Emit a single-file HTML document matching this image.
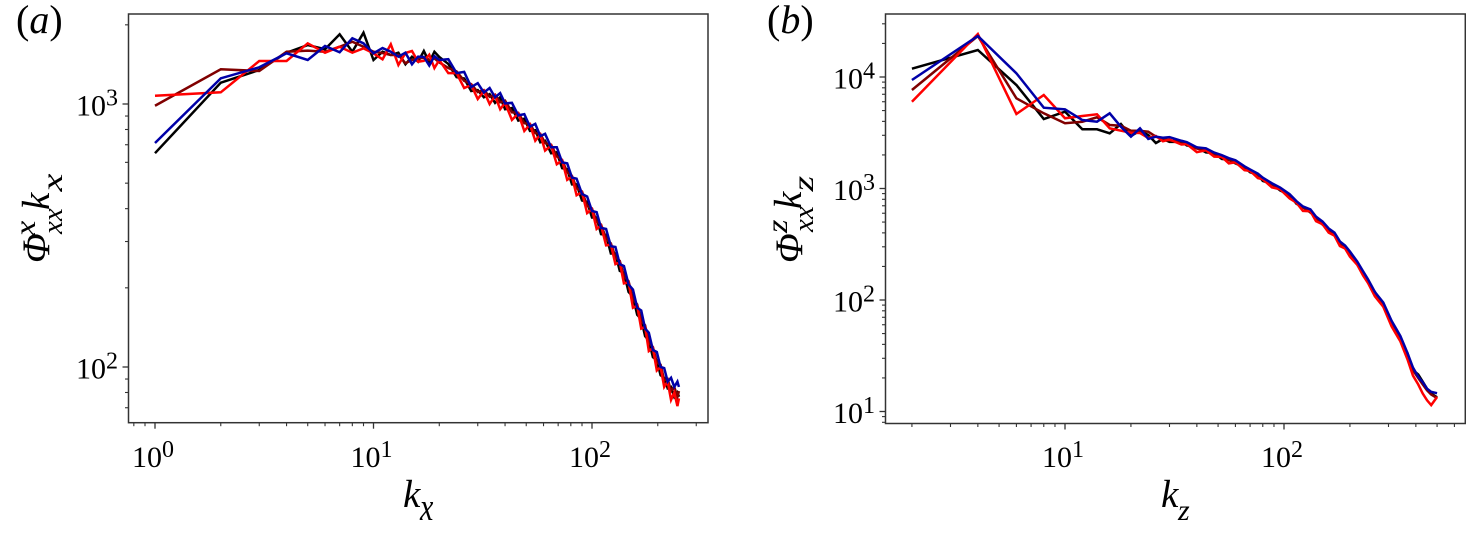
<!DOCTYPE html>
<html lang="en">
<head>
<meta charset="utf-8">
<title>Spectra panels</title>
<style>
html,body{margin:0;padding:0;background:#fff;width:1466px;height:533px;overflow:hidden}
svg{display:block}
text{font-family:"Liberation Serif",serif;fill:#000}
</style>
</head>
<body>
<svg id="figure" xmlns="http://www.w3.org/2000/svg" width="1466" height="533" viewBox="0 0 1466 533">
  <rect width="1466" height="533" fill="#fff"/>

  <text x="16" y="33" font-size="40">(<tspan font-style="italic">a</tspan>)</text>
  <text x="767" y="33" font-size="40">(<tspan font-style="italic">b</tspan>)</text>

  <g transform="translate(49,0) rotate(-90)" font-style="italic">
    <text x="-263" y="0" font-size="39">Φ</text>
    <text transform="translate(-236,-14) scale(1.15,1)" font-size="30">x</text>
    <text x="-234" y="13" font-size="29">xx</text>
    <text x="-210" y="0" font-size="39">k</text>
    <text transform="translate(-191.5,13) scale(1.35,1)" font-size="30">x</text>
  </g>
  <g transform="translate(802,0) rotate(-90)" font-style="italic">
    <text x="-263" y="0" font-size="39">Φ</text>
    <text transform="translate(-233,-15) scale(1.15,1)" font-size="30">z</text>
    <text x="-232" y="11" font-size="29">xx</text>
    <text x="-209" y="-1" font-size="39">k</text>
    <text transform="translate(-191.5,11) scale(1.35,1)" font-size="30">z</text>
  </g>
  <g font-style="italic">
    <text x="403" y="507" font-size="39">k</text>
    <text transform="translate(420,520) scale(1,1.3)" font-size="30">x</text>
  </g>
  <g font-style="italic">
    <text x="1161" y="507" font-size="39">k</text>
    <text x="1178" y="520" font-size="30">z</text>
  </g>
</svg>
<script>
// ---- Panel (a) data ----
const kxValues = [1,2,3,4,5,6,7,8,9,10,11,12,13,14,15,16,17,18,19,20,
  22,24,26,28,30,32,34,36,38,40,43,46,49,52,55,58,61,65,69,73,
  77,81,85,90,95,100,105,110,116,122,128,134,140,147,154,161,168,175,182,190,
  198,206,214,222,230,238,246,250];
const panelABlack = [650,1205,1347,1567,1676,1615,1841,1580,1867,1470,1580,1536,1567,1416,1513,1448,1590,1440,1580,1510,
  1420,1265,1250,1120,1130,1060,1090,1010,1060,955,965,865,880,790,795,715,725,650,655,570,
  565,495,495,430,425,370,370,320,318,270,270,232,228,193,185,158,152,131,126,109,
  106,93,91,83,84,77,80,77];
const panelADarkRed = [985,1355,1335,1580,1595,1580,1651,1725,1651,1580,1563,1536,1536,1430,1470,1490,1500,1470,1490,1440,
  1370,1330,1225,1190,1110,1130,1065,1085,1015,1030,930,925,845,840,775,770,710,700,632,612,
  550,532,478,465,410,400,357,348,308,295,262,253,222,212,181,173,150,144,124,119,
  104,102,89,90,81,84,77,81];
const panelARed = [1075,1108,1457,1457,1701,1567,1651,1567,1628,1559,1479,1687,1407,1563,1590,1448,1460,1540,1370,1470,
  1310,1310,1150,1180,1045,1120,1000,1075,955,1010,870,920,790,835,725,765,665,695,590,610,
  515,530,450,462,385,398,335,345,290,292,246,250,208,210,168,171,140,142,115,118,
  97,100,84,88,75,80,71,76];
const panelABlue = [711,1252,1379,1559,1470,1662,1573,1778,1701,1559,1632,1580,1513,1567,1416,1513,1510,1400,1520,1470,
  1480,1310,1325,1160,1200,1105,1150,1060,1100,1005,1010,905,915,820,840,755,770,685,685,600,
  595,525,520,455,445,392,388,338,335,288,286,246,242,206,197,168,164,140,135,116,
  114,100,99,88,91,84,88,84];
const panelAXMajor = [1,10,100];
const panelAXLabels = ["0","1","2"];
const panelAXMinor = [0.8,0.9,2,3,4,5,6,7,8,9,20,30,40,50,60,70,80,90,200,300];
const panelAYMajor = [100,1000];
const panelAYLabels = ["2","3"];
const panelAYMinor = [70,80,90,200,300,400,500,600,700,800,900,2000];

// ---- Panel (b) data ----
const kzValues = [2,4,6,8,10,12,14,16,18,20,22,24,26,
  28,30,34,36,40,44,48,52,56,60,66,70,76,80,88,96,106,114,122,132,
  140,150,160,170,180,190,200,216,230,242,260,284,310,340,366,388,410,430,450,470,500];
const panelBBlack = [11870,17460,8474,4200,4886,3396,3396,3126,3788,2958,3300,3020,2558,
  2780,2620,2620,2430,2340,2110,2080,1840,1810,1680,1550,1400,1330,1170,1100,960,875,730,680,610,
  550,475,430,380,330,290,265,208,177,143,118,89,64,44,33.5,23.5,21.5,18.5,16,14.5,13.4];
const panelBDarkRed = [7643,23330,6440,4725,3846,3972,4355,3711,3656,3300,3300,3228,2915,
  2800,2700,2640,2480,2280,2200,2040,1900,1800,1700,1540,1420,1320,1210,1090,985,870,745,675,620,
  545,485,428,385,328,295,262,211,175,146,115,90,62,45,32.5,23.5,20,17.5,15.5,14.2,13.2];
const panelBRed = [6000,24320,4660,6895,4266,4467,4627,3467,3300,3162,3142,2838,2958,
  2650,2750,2480,2500,2120,2200,1930,1920,1680,1720,1460,1440,1240,1210,1025,985,815,745,630,625,
  510,478,402,378,305,290,245,207,165,142,108,87,58,42.5,29.5,21,17.5,14.5,12.6,11.4,13.5];
const panelBBlue = [9397,23330,10790,5305,5129,4113,3972,4725,3581,2915,3467,2780,2915,
  2850,2890,2680,2600,2340,2290,2100,1990,1870,1790,1580,1480,1360,1250,1115,1020,890,770,690,650,
  560,505,438,402,335,308,272,221,180,153,118,95,65,47.5,33.6,24.8,20.5,18.3,16,15,14.6];
const panelBXMajor = [10,100];
const panelBXLabels = ["1","2"];
const panelBXMinor = [2,3,4,5,6,7,8,9,20,30,40,50,60,70,80,90,200,300,400,500,600];
const panelBYMajor = [10,100,1000,10000];
const panelBYLabels = ["1","2","3","4"];
const panelBYMinor = [8,9,20,30,40,50,60,70,80,90,200,300,400,500,600,700,800,900,2000,3000,4000,5000,6000,7000,8000,9000,20000,30000];

const seriesColors = ["#000000","#800000","#ff0000","#0000a8"];
const seriesNames = ["black","dark-red","red","blue"];

const svgNS = "http://www.w3.org/2000/svg";
const figure = document.getElementById("figure");

function make(tag, parent) {
  const el = document.createElementNS(svgNS, tag);
  parent.appendChild(el);
  return el;
}

function drawPanel(id, box, xScale, yScale, xMajor, xLabels, xMinor, yMajor, yLabels, yMinor, xs, allSeries) {
  const g = make("g", figure);
  
  

  const lines = make("g", g);
  
  
  allSeries.forEach(function (vals, s) {
    const p = make("polyline", lines);
    
    
    p.setAttribute("points", vals.map(function (v, i) {
      return xScale(xs[i]).toFixed(2) + "," + yScale(v).toFixed(2);
    }).join(" "));
    p.setAttribute("fill", "none");
    p.setAttribute("stroke", seriesColors[s]);
    p.setAttribute("stroke-width", "2.5");
    p.setAttribute("stroke-linejoin", "miter");
  });

  const frame = make("rect", g);
  
  
  frame.setAttribute("x", box.l);
  frame.setAttribute("y", box.t);
  frame.setAttribute("width", box.r - box.l);
  frame.setAttribute("height", box.b - box.t);
  frame.setAttribute("fill", "none");
  frame.setAttribute("stroke", "#333");
  frame.setAttribute("stroke-width", "1.5");

  function tick(x1, y1, x2, y2, name, w) {
    const t = make("line", g);
    
    
    t.setAttribute("x1", x1);
    t.setAttribute("y1", y1);
    t.setAttribute("x2", x2);
    t.setAttribute("y2", y2);
    t.setAttribute("stroke", "#333");
    t.setAttribute("stroke-width", w);
  }
  function label(x, y, anchor, exponent, name) {
    const t = make("text", g);
    
    
    t.setAttribute("x", x);
    t.setAttribute("y", y);
    t.setAttribute("text-anchor", anchor);
    t.setAttribute("font-size", "30");
    t.appendChild(document.createTextNode("10"));
    const sup = make("tspan", t);
    sup.setAttribute("font-size", "24");
    sup.setAttribute("dy", "-10");
    sup.textContent = exponent;
  }

  xMinor.forEach(function (v) {
    tick(xScale(v), box.b, xScale(v), box.b + 3.5, "x-minor-tick-" + id, 1.1);
  });
  yMinor.forEach(function (v) {
    tick(box.l, yScale(v), box.l - 3.5, yScale(v), "y-minor-tick-" + id, 1.1);
  });
  xMajor.forEach(function (v, i) {
    tick(xScale(v), box.b, xScale(v), box.b + 6, "x-major-tick-" + id, 1.3);
    label(xScale(v) - 23, 467, "start", xLabels[i], "x-tick-label-" + id);
  });
  yMajor.forEach(function (v, i) {
    tick(box.l, yScale(v), box.l - 6, yScale(v), "y-major-tick-" + id, 1.3);
    label(box.l - 10.5, yScale(v) + 11.5, "end", yLabels[i], "y-tick-label-" + id);
  });
}

drawPanel("a", {l: 128.5, r: 708, t: 14, b: 422.7},
  function (k) { return 155 + 218.5 * Math.log10(k); },
  function (v) { return 104 + 263 * (3 - Math.log10(v)); },
  panelAXMajor, panelAXLabels, panelAXMinor, panelAYMajor, panelAYLabels, panelAYMinor,
  kxValues, [panelABlack, panelADarkRed, panelARed, panelABlue]);

drawPanel("b", {l: 885.5, r: 1465.3, t: 14, b: 423.5},
  function (k) { return 1065 + 219 * (Math.log10(k) - 1); },
  function (v) { return 188.5 + 111.5 * (3 - Math.log10(v)); },
  panelBXMajor, panelBXLabels, panelBXMinor, panelBYMajor, panelBYLabels, panelBYMinor,
  kzValues, [panelBBlack, panelBDarkRed, panelBRed, panelBBlue]);
</script>
</body>
</html>
